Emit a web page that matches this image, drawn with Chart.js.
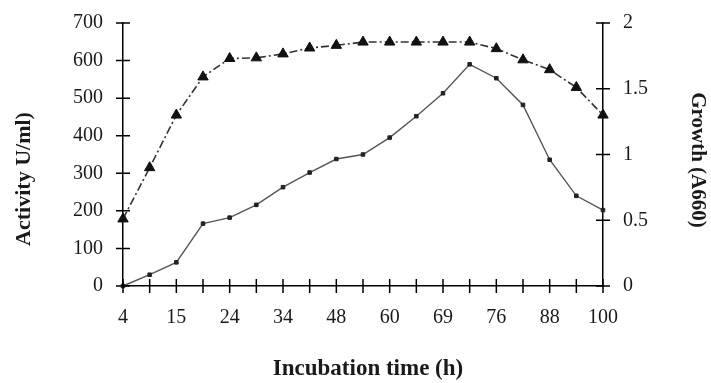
<!DOCTYPE html>
<html>
<head>
<meta charset="utf-8">
<script src="https://cdn.jsdelivr.net/npm/chart.js@4/dist/chart.umd.min.js"></script>
<style>
  html, body { margin: 0; padding: 0; background: #fff; }
  #wrap { width: 711px; height: 383px; position: relative; }
</style>
</head>
<body>
<div id="wrap"><canvas id="c" width="711" height="383"></canvas></div>
<script>
// Category tick labels (every other point is unlabeled in the original)
const categories = ['4', '', '15', '', '24', '', '34', '', '48', '', '60', '', '69', '', '76', '', '88', '', '100'];
// Enzyme activity (U/ml), left axis
const activity = [0, 30, 63, 166, 182, 216, 263, 302, 338, 350, 395, 452, 513, 590, 553, 482, 336, 240, 202];
// Growth (A660), right axis
const growth = [0.51, 0.9, 1.3, 1.59, 1.73, 1.735, 1.765, 1.81, 1.83, 1.855, 1.855, 1.855, 1.855, 1.855, 1.805, 1.72, 1.645, 1.51, 1.3];
// Right axis tick labels
const growthTicks = ['0', '0.5', '1', '1.5', '2'];

const xTitle = 'Incubation time (h)';
const yTitle = 'Activity U/ml)';
const y1Title = 'Growth (A660)';

const SERIF = '"Liberation Serif", "Times New Roman", serif';
const INK = '#1a1a1a';

const crossTicks = {
  id: 'crossTicks',
  afterDraw(chart) {
    const ctx = chart.ctx;
    const a = chart.chartArea;
    const L = 7;
    ctx.save();
    ctx.strokeStyle = '#000';
    ctx.lineWidth = 1.5;
    ctx.beginPath();
    const xs = chart.scales.x;
    xs.ticks.forEach((t, i) => {
      const px = xs.getPixelForTick(i);
      ctx.moveTo(px, a.bottom - L); ctx.lineTo(px, a.bottom + L);
    });
    const ys = chart.scales.y;
    ys.ticks.forEach((t, i) => {
      const py = ys.getPixelForTick(i);
      ctx.moveTo(a.left - L, py); ctx.lineTo(a.left + L, py);
    });
    const y1 = chart.scales.y1;
    y1.ticks.forEach((t, i) => {
      const py = y1.getPixelForTick(i);
      ctx.moveTo(a.right - L, py); ctx.lineTo(a.right + L, py);
    });
    ctx.stroke();

    // Axis titles
    ctx.fillStyle = INK;
    ctx.textAlign = 'center';
    ctx.textBaseline = 'middle';
    ctx.font = 'bold 23px ' + SERIF;
    ctx.fillText(xTitle, 368, 369);

    ctx.font = 'bold 22px ' + SERIF;
    ctx.save();
    ctx.translate(24, 179);
    ctx.rotate(-Math.PI / 2);
    ctx.fillText(yTitle, 0, 0);
    ctx.restore();

    ctx.font = 'bold 21px ' + SERIF;
    ctx.save();
    ctx.translate(697, 160);
    ctx.rotate(Math.PI / 2);
    ctx.fillText(y1Title, 0, 0);
    ctx.restore();
    ctx.restore();
  }
};

new Chart(document.getElementById('c'), {
  type: 'line',
  data: {
    labels: categories,
    datasets: [
      {
        label: 'Growth',
        data: growth,
        yAxisID: 'y1',
        borderColor: '#333',
        borderWidth: 1.6,
        borderDash: [8, 3, 2, 3],
        pointStyle: 'triangle',
        pointRadius: 6,
        pointBackgroundColor: '#111',
        pointBorderColor: '#111',
        pointBorderWidth: 1,
        tension: 0,
        clip: false
      },
      {
        label: 'Activity',
        data: activity,
        yAxisID: 'y',
        borderColor: '#555',
        borderWidth: 1.4,
        pointStyle: 'rect',
        pointRadius: 2.5,
        pointBackgroundColor: '#222',
        pointBorderColor: '#222',
        pointBorderWidth: 1,
        tension: 0,
        clip: false
      }
    ]
  },
  options: {
    responsive: false,
    animation: false,
    devicePixelRatio: 1,
    layout: { padding: { top: 23, left: 0, right: 0, bottom: 0 } },
    plugins: {
      legend: { display: false },
      tooltip: { enabled: false }
    },
    scales: {
      x: {
        type: 'category',
        offset: false,
        grid: { display: false, drawTicks: false },
        border: { display: true, color: '#000', width: 1.5 },
        ticks: {
          autoSkip: false,
          maxRotation: 0,
          padding: 20,
          color: INK,
          font: { family: SERIF, size: 20 }
        },
        afterFit(s) { s.height = 97; s.paddingLeft = 0; s.paddingRight = 0; }
      },
      y: {
        position: 'left',
        min: 0, max: 700,
        grid: { display: false, drawTicks: false },
        border: { display: true, color: '#000', width: 1.5 },
        ticks: {
          stepSize: 100,
          padding: 20,
          color: INK,
          font: { family: SERIF, size: 20 }
        },
        afterFit(s) { s.width = 123; s.paddingTop = 0; s.paddingBottom = 0; }
      },
      y1: {
        position: 'right',
        min: 0, max: 2,
        grid: { display: false, drawTicks: false },
        border: { display: true, color: '#000', width: 1.5 },
        ticks: {
          stepSize: 0.5,
          padding: 20,
          color: INK,
          font: { family: SERIF, size: 20 },
          callback: (v, i) => growthTicks[i]
        },
        afterFit(s) { s.width = 108; s.paddingTop = 0; s.paddingBottom = 0; }
      }
    }
  },
  plugins: [crossTicks]
});
</script>
</body>
</html>
